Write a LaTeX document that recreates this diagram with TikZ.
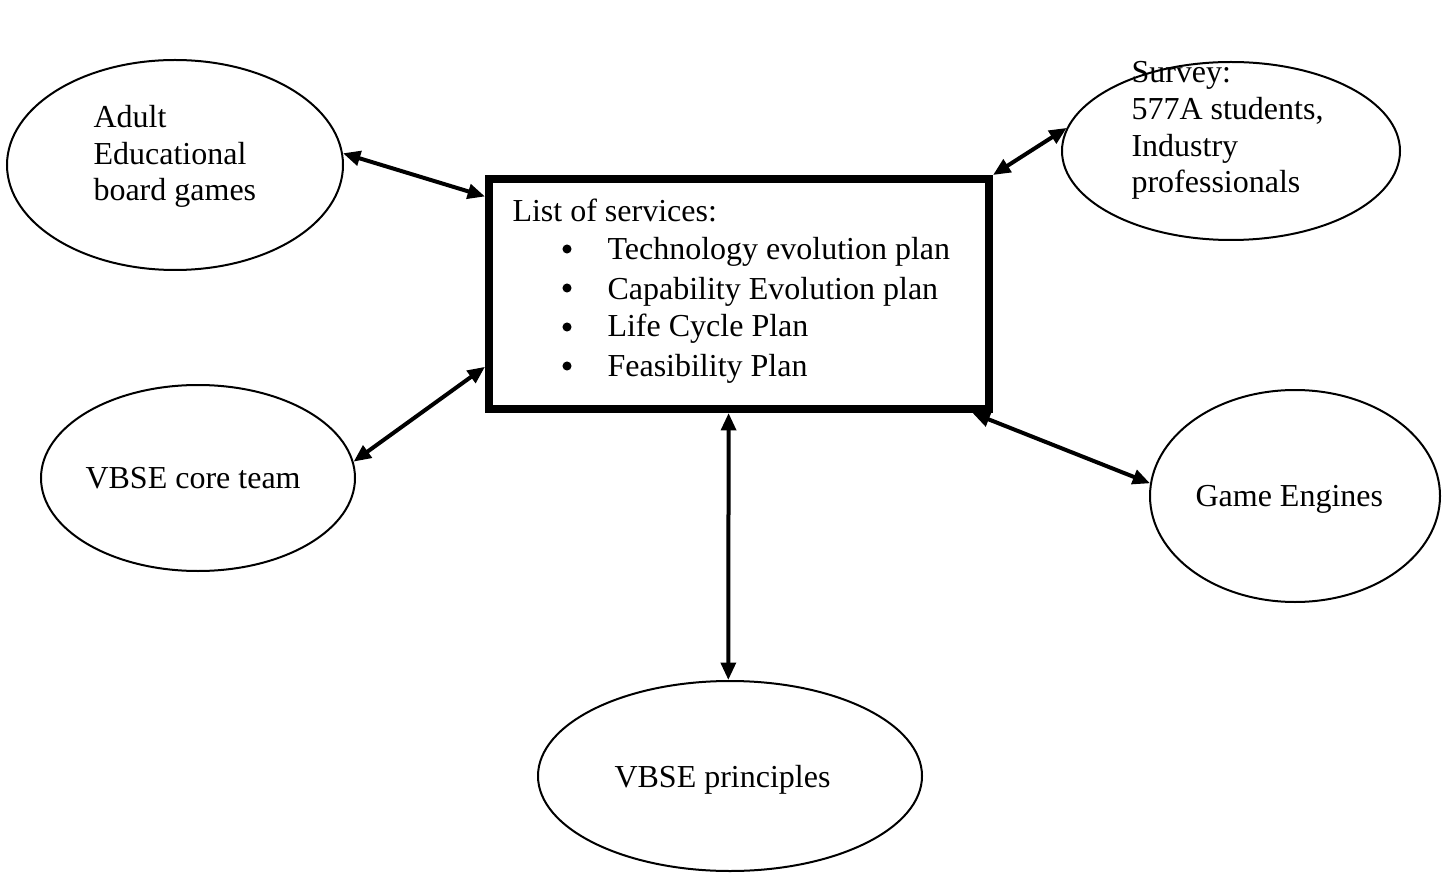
\documentclass[tikz,border=0pt]{standalone}
\usepackage{fontspec}
\setmainfont{Liberation Serif}
\usetikzlibrary{shapes.geometric,arrows.meta}
\begin{document}
\begin{tikzpicture}[x=0.375pt,y=-0.375pt,
  topic/.style={draw,ellipse,line width=0.75pt,inner sep=0pt},
  hub/.style={draw,rectangle,line width=3pt,inner sep=0pt,
    minimum width=187.5pt,minimum height=86.25pt},
  txt/.style={anchor=base west,inner sep=0pt,font=\fontsize{12}{13.8}\selectfont,align=left},
  dot/.style={circle,fill,inner sep=0pt,minimum size=3.4pt},
  link/.style={line width=1.5pt,{Triangle[length=6.5pt,width=5.5pt]}-{Triangle[length=6.5pt,width=5.5pt]}}]
\useasboundingbox (0,0) rectangle (1448,873);

% central box with the list of services
\node[hub] (box) at (739,294) {};
\node[txt] (lst) at (512,222) {List of services:};
\node[dot] (b1) at (567,249) {};
\node[txt] (t1) at (607,260) {Technology evolution plan};
\node[dot] (b2) at (567,288) {};
\node[txt] (t2) at (607,299) {Capability Evolution plan};
\node[dot] (b3) at (567,327) {};
\node[txt] (t3) at (607,337) {Life Cycle Plan};
\node[dot] (b4) at (567,366) {};
\node[txt] (t4) at (607,376) {Feasibility Plan};

% surrounding topics (multi-line labels are placed by their last baseline)
\node[topic,minimum width=126pt,minimum height=78.75pt] (adult) at (175,165) {};
\node[txt] (adultT) at (93,201) {Adult\\Educational\\board games};

\node[topic,minimum width=126.75pt,minimum height=66.75pt] (survey) at (1231,151) {};
\node[txt] (surveyT) at (1131,193) {Survey:\\577A students,\\Industry\\professionals};

\node[topic,minimum width=117.75pt,minimum height=69.75pt] (core) at (198,478) {};
\node[txt] (coreT) at (85,488) {VBSE core team};

\node[topic,minimum width=108.75pt,minimum height=79.5pt] (engines) at (1295,496) {};
\node[txt] (enginesT) at (1195,506) {Game Engines};

\node[topic,minimum width=144pt,minimum height=71.25pt] (principles) at (730,776) {};
\node[txt] (principlesT) at (614,787) {VBSE principles};

% two-way links
\draw[link] (adult.4) -- (box.159.1);
\draw[link] (box.north east) -- (survey.172.3);
\draw[link] (box.196.2) -- (core.6.2);
\draw[link] (box.-27.3) -- (engines.175.7);
\draw[link] (box.-95.8) -- (principles.91.7);
\end{tikzpicture}
\end{document}
